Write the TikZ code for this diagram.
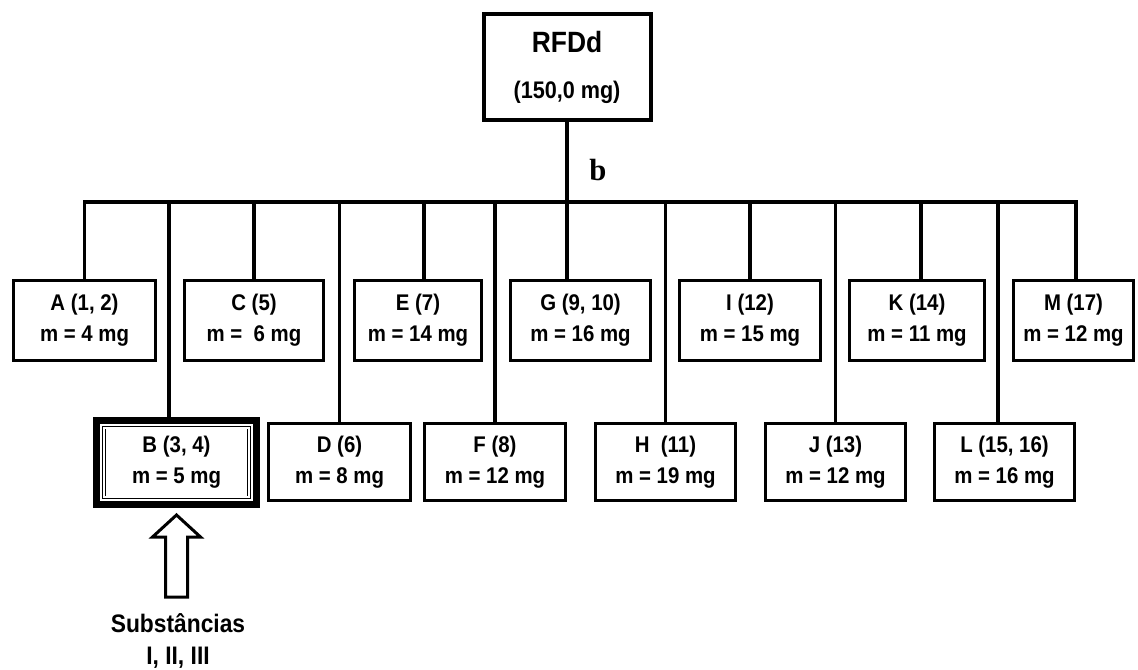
\documentclass[tikz,border=0pt]{standalone}
\usepackage{fontspec}
\setmainfont{Liberation Sans}[FakeStretch=0.9]
\newfontfamily\serifbold{Liberation Serif}
\usetikzlibrary{calc}
\tikzset{
    frac/.style = {rectangle, draw=black, line width=2.25pt, align=center, inner sep=0pt, outer sep=0pt, minimum height=60pt, font=\fontsize{17}{23}\selectfont\bfseries},
    fraclow/.style = {frac, minimum height=57.75pt},
    link/.style = {line width=2.6pt, line cap=rect},
    hollow/.style = {line width=2.25pt, line join=miter, fill=white}
}

\begin{document}
\begin{tikzpicture}[x=0.75pt, y=-0.75pt]
\useasboundingbox (0,0) rectangle (1138,670);

% crude fraction
\node[frac, line width=3pt, minimum width=125.25pt, minimum height=79.5pt, font=\fontsize{22}{35}\selectfont\bfseries] (rfd) at (567,67.5)
    {RFDd\\\fontsize{18}{35}\selectfont(150,0 mg)};
\coordinate (bus) at (566,202);
\node[font=\serifbold\bfseries\fontsize{23}{23}\selectfont] (blabel) at (598,170) {b};

% first row of fractions
\node[frac, minimum width=106.5pt] (a) at (84.5,320.5) {A (1, 2)\\m = 4 mg};
\node[frac, minimum width=104.25pt] (c) at (254,320.5) {C (5)\\m = \ 6 mg};
\node[frac, minimum width=95.25pt] (e) at (418,320.5) {E (7)\\m = 14 mg};
\node[frac, minimum width=105pt] (g) at (580.5,320.5) {G (9, 10)\\m = 16 mg};
\node[frac, minimum width=105.75pt] (i) at (750,320.5) {I (12)\\m = 15 mg};
\node[frac, minimum width=101.25pt] (k) at (917,320.5) {K (14)\\m = 11 mg};
\node[frac, minimum width=90pt] (m) at (1073.5,320.5) {M (17)\\m = 12 mg};

% second row of fractions
\node[rectangle, draw=black, line width=5.25pt, minimum width=120pt, minimum height=63pt, inner sep=0pt, outer sep=0pt] (b) at (176.5,462.5) {};
\node[frac, line width=0.6pt, double, double distance=1.2pt, minimum width=108.75pt, minimum height=52pt] (btext) at (b.center) {B (3, 4)\\m = 5 mg};
\node[fraclow, minimum width=106.5pt] (d) at (339.5,462) {D (6)\\m = 8 mg};
\node[fraclow, minimum width=105.75pt] (f) at (495,462) {F (8)\\m = 12 mg};
\node[fraclow, minimum width=105pt] (h) at (665.5,462) {H \ (11)\\m = 19 mg};
\node[fraclow, minimum width=105pt] (j) at (835.5,462) {J (13)\\m = 12 mg};
\node[fraclow, minimum width=105pt] (l) at (1004.5,462) {L (15, 16)\\m = 16 mg};

% links
\draw[link] (rfd.south) -- (rfd.south |- g.north);
\draw[link] (a.north |- bus) -- ([xshift=2pt]m.north |- bus);
\foreach \n/\s in {a/0, c/0, e/4.5, i/0, k/3, m/2, b/-5.6, d/0, f/0, h/0, j/0, l/-4.9}
    \draw[link] ([xshift=\s pt]\n.north |- bus) -- ([xshift=\s pt]\n.north);

% isolated substances
\draw[hollow] ($(b.south)+(0,10.5)$) -- ++(24,22) -- ++(-13,0) -- ++(0,60) -- ++(-22,0) -- ++(0,-60) -- ++(-13,0) -- cycle;
\node[align=center, font=\fontsize{19}{24}\selectfont\bfseries] (subst) at (178,641) {Substâncias\\I, II, III};
\end{tikzpicture}
\end{document}
